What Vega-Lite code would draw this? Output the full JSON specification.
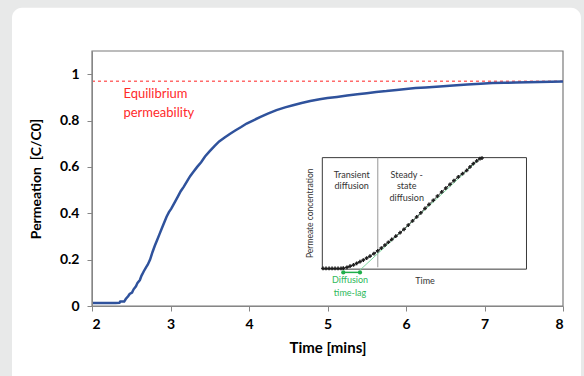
{
  "$schema": "https://vega.github.io/schema/vega-lite/v6.json",
  "width": 471,
  "height": 255,
  "autosize": {"type": "none"},
  "padding": {"left": 92, "top": 51, "right": 21, "bottom": 70},
  "background": "#e8e9e9",
  "config": {
    "view": {"stroke": null},
    "axis": {
      "labelFont": "Lato", "labelFontWeight": "bold", "labelFontSize": 14, "labelColor": "#000000",
      "titleFont": "Lato", "titleFontWeight": "bold", "titleFontSize": 14, "titleColor": "#000000",
      "domainColor": "#868686", "tickColor": "#868686", "tickSize": 5, "grid": false
    }
  },
  "datasets": {
    "main": [
      {"t": 2.0, "p": 0.013}, {"t": 2.1, "p": 0.013}, {"t": 2.2, "p": 0.013}, {"t": 2.3, "p": 0.013},
      {"t": 2.35, "p": 0.014}, {"t": 2.36, "p": 0.019}, {"t": 2.41, "p": 0.019}, {"t": 2.43, "p": 0.03},
      {"t": 2.46, "p": 0.042}, {"t": 2.48, "p": 0.052}, {"t": 2.51, "p": 0.058}, {"t": 2.53, "p": 0.072},
      {"t": 2.56, "p": 0.085}, {"t": 2.58, "p": 0.1}, {"t": 2.61, "p": 0.112}, {"t": 2.63, "p": 0.13},
      {"t": 2.66, "p": 0.15}, {"t": 2.69, "p": 0.168}, {"t": 2.71, "p": 0.178}, {"t": 2.74, "p": 0.2},
      {"t": 2.77, "p": 0.232}, {"t": 2.8, "p": 0.26}, {"t": 2.83, "p": 0.285}, {"t": 2.86, "p": 0.31},
      {"t": 2.89, "p": 0.335}, {"t": 2.92, "p": 0.36}, {"t": 2.95, "p": 0.385}, {"t": 2.98, "p": 0.405},
      {"t": 3.01, "p": 0.42}, {"t": 3.05, "p": 0.445}, {"t": 3.09, "p": 0.47}, {"t": 3.13, "p": 0.495},
      {"t": 3.17, "p": 0.515}, {"t": 3.21, "p": 0.538}, {"t": 3.25, "p": 0.56}, {"t": 3.29, "p": 0.578},
      {"t": 3.34, "p": 0.6}, {"t": 3.39, "p": 0.62}, {"t": 3.44, "p": 0.645}, {"t": 3.5, "p": 0.668},
      {"t": 3.56, "p": 0.69}, {"t": 3.62, "p": 0.71}, {"t": 3.69, "p": 0.727}, {"t": 3.76, "p": 0.743},
      {"t": 3.83, "p": 0.758}, {"t": 3.9, "p": 0.772}, {"t": 3.97, "p": 0.787}, {"t": 4.05, "p": 0.8},
      {"t": 4.14, "p": 0.815}, {"t": 4.24, "p": 0.83}, {"t": 4.35, "p": 0.845}, {"t": 4.46, "p": 0.857},
      {"t": 4.56, "p": 0.866}, {"t": 4.67, "p": 0.876}, {"t": 4.78, "p": 0.884}, {"t": 4.9, "p": 0.892},
      {"t": 5.0, "p": 0.897}, {"t": 5.12, "p": 0.902}, {"t": 5.25, "p": 0.908}, {"t": 5.38, "p": 0.913},
      {"t": 5.5, "p": 0.918}, {"t": 5.62, "p": 0.923}, {"t": 5.75, "p": 0.927}, {"t": 5.88, "p": 0.932},
      {"t": 6.0, "p": 0.936}, {"t": 6.12, "p": 0.94}, {"t": 6.25, "p": 0.943}, {"t": 6.43, "p": 0.947},
      {"t": 6.6, "p": 0.951}, {"t": 6.78, "p": 0.955}, {"t": 6.95, "p": 0.959}, {"t": 7.1, "p": 0.962},
      {"t": 7.25, "p": 0.963}, {"t": 7.4, "p": 0.964}, {"t": 7.55, "p": 0.965}, {"t": 7.7, "p": 0.966},
      {"t": 7.85, "p": 0.967}, {"t": 8.0, "p": 0.968}
    ],
    "inset": [
      {"t": 4.943, "c": 0.162}, {"t": 4.981, "c": 0.162}, {"t": 5.02, "c": 0.162}, {"t": 5.058, "c": 0.162},
      {"t": 5.096, "c": 0.162}, {"t": 5.134, "c": 0.162}, {"t": 5.172, "c": 0.162}, {"t": 5.201, "c": 0.163},
      {"t": 5.248, "c": 0.167}, {"t": 5.287, "c": 0.172}, {"t": 5.331, "c": 0.177}, {"t": 5.372, "c": 0.184},
      {"t": 5.414, "c": 0.191}, {"t": 5.456, "c": 0.198}, {"t": 5.499, "c": 0.207}, {"t": 5.541, "c": 0.215},
      {"t": 5.592, "c": 0.226}, {"t": 5.64, "c": 0.238}, {"t": 5.686, "c": 0.25}, {"t": 5.732, "c": 0.263},
      {"t": 5.775, "c": 0.275}, {"t": 5.818, "c": 0.287}, {"t": 5.87, "c": 0.301}, {"t": 5.924, "c": 0.316},
      {"t": 5.975, "c": 0.331}, {"t": 6.029, "c": 0.349}, {"t": 6.083, "c": 0.367}, {"t": 6.136, "c": 0.384},
      {"t": 6.189, "c": 0.402}, {"t": 6.242, "c": 0.421}, {"t": 6.293, "c": 0.438}, {"t": 6.348, "c": 0.456},
      {"t": 6.401, "c": 0.474}, {"t": 6.455, "c": 0.492}, {"t": 6.507, "c": 0.509}, {"t": 6.561, "c": 0.525},
      {"t": 6.611, "c": 0.541}, {"t": 6.666, "c": 0.557}, {"t": 6.72, "c": 0.571}, {"t": 6.773, "c": 0.585},
      {"t": 6.815, "c": 0.6}, {"t": 6.857, "c": 0.614}, {"t": 6.901, "c": 0.626}, {"t": 6.943, "c": 0.636},
      {"t": 6.968, "c": 0.638}
    ],
    "tangent": [{"t": 5.414, "c": 0.155}, {"t": 6.943, "c": 0.636}],
    "lag": [{"t": 5.201, "c": 0.145}, {"t": 5.414, "c": 0.145}],
    "redText": [
      {"t": 2.4, "p": 0.913, "label": "Equilibrium"},
      {"t": 2.4, "p": 0.832, "label": "permeability"}
    ],
    "insetText": [
      {"t": 5.308, "c": 0.564, "label": "Transient"},
      {"t": 5.308, "c": 0.517, "label": "diffusion"},
      {"t": 6.009, "c": 0.564, "label": "Steady -"},
      {"t": 6.009, "c": 0.517, "label": "state"},
      {"t": 6.009, "c": 0.468, "label": "diffusion"},
      {"t": 6.242, "c": 0.108, "label": "Time"}
    ],
    "greenText": [
      {"t": 5.287, "c": 0.111, "label": "Diffusion"},
      {"t": 5.287, "c": 0.055, "label": "time-lag"}
    ],
    "yText": [{"t": 4.777, "c": 0.4, "label": "Permeate concentration"}]
  },
  "layer": [
    {
      "data": {"values": [{}]},
      "mark": {"type": "rect", "fill": "#ffffff", "cornerRadius": 10},
      "encoding": {
        "x": {"datum": 0.981, "type": "quantitative", "scale": {"domain": [2, 8], "nice": false},
          "axis": {"values": [2, 3, 4, 5, 6, 7, 8], "format": "d", "title": "Time [mins]", "labelPadding": 6, "titlePadding": 9, "titleFontSize": 15, "zindex": 2}},
        "x2": {"datum": 8.229},
        "y": {"datum": 1.287, "type": "quantitative", "scale": {"domain": [0, 1.1], "nice": false},
          "axis": {"values": [0, 0.2, 0.4, 0.6, 0.8, 1], "format": "~g", "title": "Permeation \u00a0[C/C0]", "labelPadding": 8, "titlePadding": 16, "titleFontSize": 14, "zindex": 2}},
        "y2": {"datum": -0.5}
      }
    },
    {
      "data": {"values": [{}]},
      "mark": {"type": "rect", "fill": null, "stroke": "#7a7a7a", "strokeWidth": 1.2},
      "encoding": {
        "x": {"datum": 2, "type": "quantitative"}, "x2": {"datum": 8},
        "y": {"datum": 0, "type": "quantitative"}, "y2": {"datum": 1.1}
      }
    },
    {
      "data": {"values": [{}]},
      "mark": {"type": "rule", "color": "#ff6b6b", "strokeDash": [3, 3], "strokeWidth": 1.5},
      "encoding": {
        "x": {"datum": 2, "type": "quantitative"}, "x2": {"datum": 8},
        "y": {"datum": 0.97, "type": "quantitative"}
      }
    },
    {
      "data": {"name": "main"},
      "mark": {"type": "line", "color": "#2f529c", "strokeWidth": 2.5, "interpolate": "linear"},
      "encoding": {
        "x": {"field": "t", "type": "quantitative"},
        "y": {"field": "p", "type": "quantitative"}
      }
    },
    {
      "data": {"name": "redText"},
      "mark": {"type": "text", "color": "#ff2a2a", "font": "Lato", "fontSize": 13, "align": "left", "baseline": "middle"},
      "encoding": {
        "x": {"field": "t", "type": "quantitative"},
        "y": {"field": "p", "type": "quantitative"},
        "text": {"field": "label"}
      }
    },
    {
      "data": {"values": [{}]},
      "mark": {"type": "rect", "fill": "#ffffff", "stroke": "#3a3a3a", "strokeWidth": 1},
      "encoding": {
        "x": {"datum": 4.934, "type": "quantitative"}, "x2": {"datum": 7.535},
        "y": {"datum": 0.159, "type": "quantitative"}, "y2": {"datum": 0.64}
      }
    },
    {
      "data": {"values": [{}]},
      "mark": {"type": "rule", "color": "#a8a8a8", "strokeWidth": 1.2},
      "encoding": {
        "x": {"datum": 5.64, "type": "quantitative"},
        "y": {"datum": 0.167, "type": "quantitative"}, "y2": {"datum": 0.64}
      }
    },
    {
      "data": {"name": "tangent"},
      "mark": {"type": "line", "color": "#7fd6a0", "strokeWidth": 1},
      "encoding": {
        "x": {"field": "t", "type": "quantitative"},
        "y": {"field": "c", "type": "quantitative"}
      }
    },
    {
      "data": {"name": "inset"},
      "mark": {"type": "line", "color": "#2a2a2a", "strokeWidth": 1},
      "encoding": {
        "x": {"field": "t", "type": "quantitative"},
        "y": {"field": "c", "type": "quantitative"}
      }
    },
    {
      "data": {"name": "inset"},
      "mark": {"type": "point", "shape": "cross", "size": 14, "filled": true, "color": "#1e1e1e", "opacity": 1},
      "encoding": {
        "x": {"field": "t", "type": "quantitative"},
        "y": {"field": "c", "type": "quantitative"}
      }
    },
    {
      "data": {"name": "lag"},
      "mark": {"type": "line", "color": "#1fae4b", "strokeWidth": 1.5, "point": {"filled": true, "size": 18, "color": "#1fae4b"}},
      "encoding": {
        "x": {"field": "t", "type": "quantitative"},
        "y": {"field": "c", "type": "quantitative"}
      }
    },
    {
      "data": {"name": "insetText"},
      "mark": {"type": "text", "color": "#333333", "font": "Lato", "fontSize": 9, "align": "center", "baseline": "middle"},
      "encoding": {
        "x": {"field": "t", "type": "quantitative"},
        "y": {"field": "c", "type": "quantitative"},
        "text": {"field": "label"}
      }
    },
    {
      "data": {"name": "greenText"},
      "mark": {"type": "text", "color": "#2db85a", "font": "Lato", "fontSize": 9, "align": "center", "baseline": "middle"},
      "encoding": {
        "x": {"field": "t", "type": "quantitative"},
        "y": {"field": "c", "type": "quantitative"},
        "text": {"field": "label"}
      }
    },
    {
      "data": {"name": "yText"},
      "mark": {"type": "text", "color": "#333333", "font": "Lato", "fontSize": 8.5, "angle": 270, "align": "center", "baseline": "middle"},
      "encoding": {
        "x": {"field": "t", "type": "quantitative"},
        "y": {"field": "c", "type": "quantitative"},
        "text": {"field": "label"}
      }
    }
  ]
}
